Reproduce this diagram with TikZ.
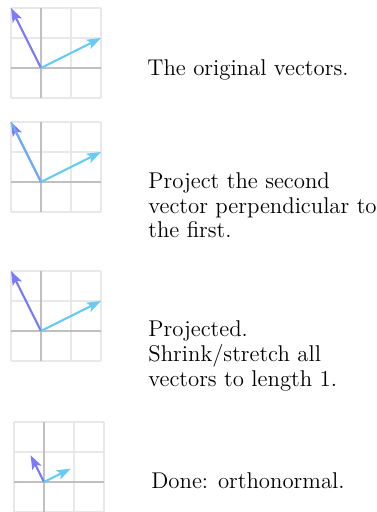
\documentclass[tikz,border=0pt]{standalone}
\usetikzlibrary{arrows.meta}
\definecolor{vecA}{RGB}{122,122,250}
\definecolor{vecB}{RGB}{102,204,245}
\definecolor{gridc}{RGB}{232,232,232}
\definecolor{axisc}{RGB}{192,192,192}
\tikzset{
  gridline/.style={draw=gridc, line width=0.6pt},
  axisline/.style={draw=axisc, line width=0.9pt},
  vecline/.style={line width=1.1pt, -{Stealth[length=7pt,width=5pt,inset=1.5pt]}},
  caption/.style={anchor=base west, inner sep=0pt, align=left, font=\fontsize{11.4}{12.3}\selectfont}
}
\newcommand\mygrid{%
  \foreach \i in {-30,30,60} \draw[gridline] (\i,-60) -- (\i,30);
  \foreach \j in {-60,-30,30} \draw[gridline] (-30,\j) -- (60,\j);
  \draw[axisline] (0,-60) -- (0,30);
  \draw[axisline] (-30,0) -- (60,0);
}
\begin{document}
\begin{tikzpicture}[x=0.5pt,y=-0.5pt]
\useasboundingbox (0,0) rectangle (376,512);
% panel 1
\begin{scope}[shift={(41,68)}]
  \mygrid
  \coordinate (o1) at (0,0);
  \coordinate (a1) at (-30,-60);
  \coordinate (b1) at (60,-30);
  \draw[vecline, vecA] (o1) -- (a1);
  \draw[vecline, vecB] (o1) -- (b1);
\end{scope}
% panel 2
\begin{scope}[shift={(41,182)}]
  \mygrid
  \coordinate (o2) at (0,0);
  \coordinate (a2) at (-30,-60);
  \coordinate (b2) at (60,-30);
  \draw[vecline, vecA] (o2) -- (a2);
  \draw[line width=1.1pt, vecB, opacity=0.6] (o2) -- (a2);
  \draw[vecline, vecB] (o2) -- (b2);
\end{scope}
% panel 3
\begin{scope}[shift={(41,331)}]
  \mygrid
  \coordinate (o3) at (0,0);
  \coordinate (a3) at (-30,-60);
  \coordinate (b3) at (60,-30);
  \draw[vecline, vecA] (o3) -- (a3);
  \draw[vecline, vecB] (o3) -- (b3);
\end{scope}
% panel 4
\begin{scope}[shift={(44,482)}]
  \mygrid
  \coordinate (o4) at (0,0);
  \coordinate (a4) at (-13.4,-26.8);
  \coordinate (b4) at (26.8,-13.4);
  \draw[vecline, vecA] (o4) -- (a4);
  \draw[vecline, vecB] (o4) -- (b4);
\end{scope}
\node[caption] (t1) at (147,75.5) {The original vectors.};
\node[caption] (t2) at (148,238) {Project the second\\vector perpendicular to\\the first.};
\node[caption] (t3) at (148,386) {Projected.\\Shrink/stretch all\\vectors to length 1.};
\node[caption] (t4) at (151,488.5) {Done: orthonormal.};
\end{tikzpicture}
\end{document}
